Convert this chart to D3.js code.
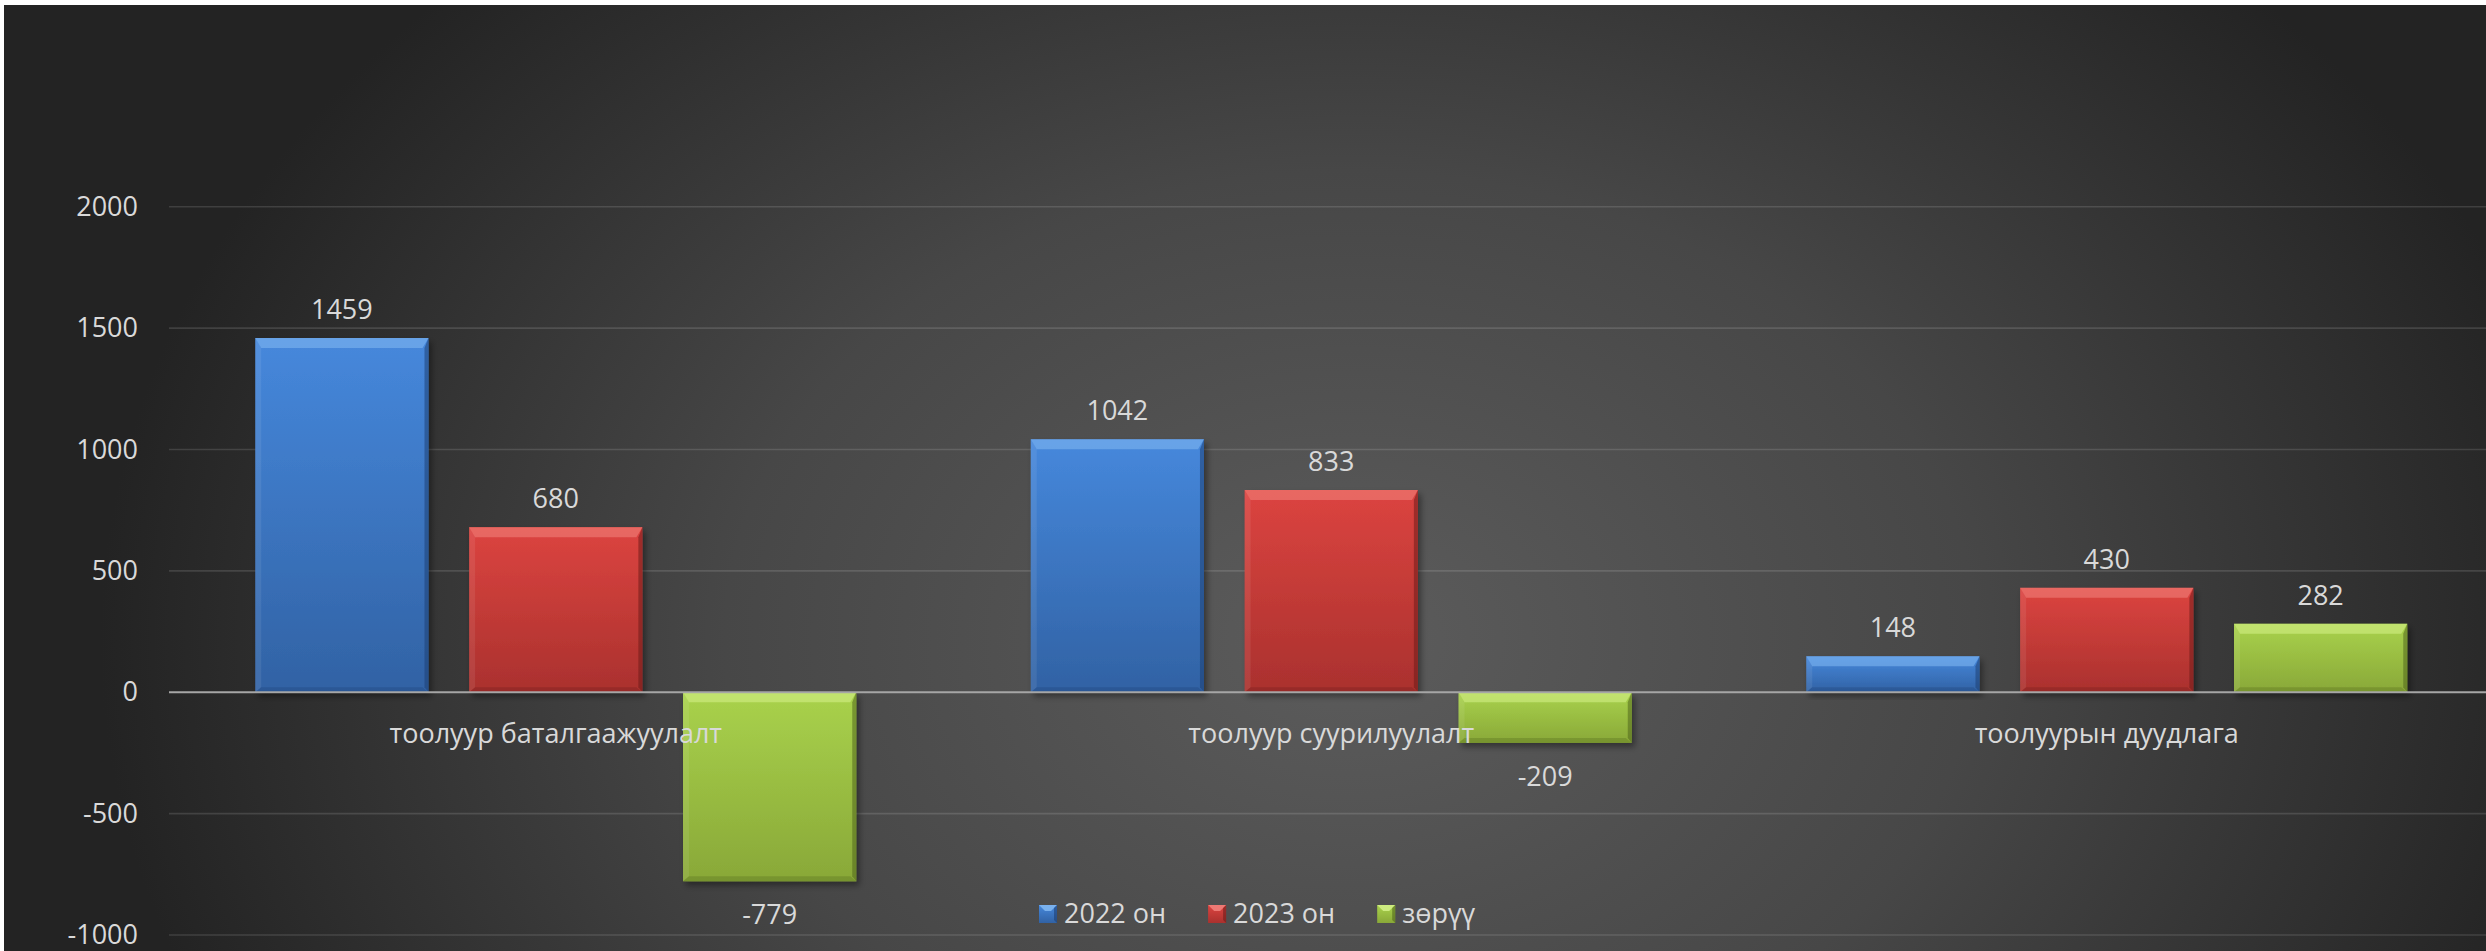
<!DOCTYPE html>
<html>
<head>
<meta charset="utf-8">
<script src="https://cdn.jsdelivr.net/npm/d3@7"></script>
<style>
  html, body { margin: 0; padding: 0; background: #ffffff; }
  svg { display: block; }
  text { font-family: "Open Sans", Roboto, "DejaVu Sans", sans-serif; fill: #d9d9d9; }
</style>
</head>
<body>
<svg id="chart" width="2486" height="951"></svg>
<script>
// ---- data ----
const categories = ["тоолуур баталгаажуулалт", "тоолуур суурилуулалт", "тоолуурын дуудлага"];
const seriesNames = ["2022 он", "2023 он", "зөрүү"];
const values2022 = [1459, 1042, 148];
const values2023 = [680, 833, 430];
const valuesDiff = [-779, -209, 282];
const yTicks = [-1000, -500, 0, 500, 1000, 1500, 2000];

const seriesValues = [values2022, values2023, valuesDiff];
const palette = [
  { top: "#4688dc", bottom: "#3162a4", bevel: "#7fb6f0", dark: "#1e3f73" },
  { top: "#dc4440", bottom: "#aa312e", bevel: "#f0807a", dark: "#6e1c1a" },
  { top: "#a9d24c", bottom: "#89a838", bevel: "#d2ee86", dark: "#50661c" }
];

const W = 2486, H = 951;
const svg = d3.select("#chart");
const defs = svg.append("defs");

// background gradient
const bg = defs.append("radialGradient").attr("id", "bg")
  .attr("gradientUnits", "userSpaceOnUse")
  .attr("cx", 1350).attr("cy", 640).attr("r", 1250)
  .attr("gradientTransform", "translate(1350,640) scale(1,0.75) translate(-1350,-640)");
bg.append("stop").attr("offset", 0).attr("stop-color", "#5c5c5c");
bg.append("stop").attr("offset", 0.5).attr("stop-color", "#474747");
bg.append("stop").attr("offset", 1).attr("stop-color", "#232323");

palette.forEach((p, i) => {
  const g = defs.append("linearGradient").attr("id", "bar" + i)
    .attr("x1", 0).attr("y1", 0).attr("x2", 0).attr("y2", 1);
  g.append("stop").attr("offset", 0).attr("stop-color", p.top);
  g.append("stop").attr("offset", 1).attr("stop-color", p.bottom);
});

const sh = defs.append("filter").attr("id", "shadow")
  .attr("x", "-20%").attr("y", "-20%").attr("width", "140%").attr("height", "140%");
sh.append("feDropShadow").attr("dx", 3).attr("dy", 4).attr("stdDeviation", 3)
  .attr("flood-color", "#000").attr("flood-opacity", 0.4);

svg.append("rect").attr("x", 4).attr("y", 5).attr("width", W - 4).attr("height", H - 5)
  .attr("fill", "url(#bg)");

// ---- scales ----
const x0 = d3.scaleBand().domain(categories).range([168, 2494.5]).paddingInner(0).paddingOuter(0);
const bw = x0.bandwidth();
const x1 = d3.scaleBand().domain(seriesNames)
  .range([bw * 0.1125, bw * 0.8875]).paddingInner(0.19).paddingOuter(0);
const y = d3.scaleLinear().domain([-1000, 2000]).range([935, 206.7]);

// gridlines
svg.append("g").selectAll("line").data(yTicks.filter(d => d !== 0)).join("line")
  .attr("x1", 169).attr("x2", W)
  .attr("y1", d => y(d)).attr("y2", d => y(d))
  .attr("stroke", "rgba(255,255,255,0.13)").attr("stroke-width", 1.6);

// y axis labels
const yAxis = d3.axisLeft(y).tickValues(yTicks).tickSize(0).tickPadding(31).tickFormat(d => String(d));
const yg = svg.append("g").attr("transform", "translate(169,0)").call(yAxis);
yg.select(".domain").remove();
yg.selectAll("text").attr("font-size", 27).attr("fill", "#d9d9d9")
  .style("font-family", '"Open Sans", Roboto, sans-serif');

// ---- bars ----
const data = [];
categories.forEach((c, ci) => {
  seriesNames.forEach((s, si) => {
    data.push({ cat: c, ser: s, si, v: seriesValues[si][ci] });
  });
});

function bevelBar(g, x, yy, w, h, p) {
  const t = Math.min(10, h / 3), s = 6, b = Math.min(5, h / 4);
  g.append("rect").attr("x", x).attr("y", yy).attr("width", w).attr("height", h)
    .attr("fill", "url(#bar" + p.i + ")").attr("filter", "url(#shadow)");
  const poly = pts => pts.map(q => q.join(",")).join(" ");
  g.append("polygon").attr("points", poly([[x, yy], [x + w, yy], [x + w - s, yy + t], [x + s, yy + t]]))
    .attr("fill", p.bevel).attr("opacity", 0.6);
  g.append("polygon").attr("points", poly([[x, yy], [x + s, yy + t], [x + s, yy + h - b], [x, yy + h]]))
    .attr("fill", "#ffffff").attr("opacity", 0.08);
  g.append("polygon").attr("points", poly([[x + w, yy], [x + w, yy + h], [x + w - 4, yy + h - b], [x + w - 4, yy + t]]))
    .attr("fill", p.dark).attr("opacity", 0.55);
  g.append("polygon").attr("points", poly([[x, yy + h], [x + s, yy + h - b], [x + w - s, yy + h - b], [x + w, yy + h]]))
    .attr("fill", p.dark).attr("opacity", 0.3);
}

const barsG = svg.append("g");
data.forEach(d => {
  const x = x0(d.cat) + x1(d.ser);
  const top = y(Math.max(0, d.v)), bot = y(Math.min(0, d.v));
  bevelBar(barsG.append("g"), x, top, x1.bandwidth(), bot - top, Object.assign({ i: d.si }, palette[d.si]));
});

// zero axis line
svg.append("line").attr("x1", 169).attr("x2", W).attr("y1", y(0)).attr("y2", y(0))
  .attr("stroke", "#a6a6a6").attr("stroke-width", 2.2);

// data labels
svg.append("g").selectAll("text").data(data).join("text")
  .attr("x", d => x0(d.cat) + x1(d.ser) + x1.bandwidth() / 2)
  .attr("y", d => d.v >= 0 ? y(d.v) - 19 : y(d.v) + 43)
  .attr("text-anchor", "middle").attr("font-size", 27)
  .text(d => String(d.v));

// category labels
svg.append("g").selectAll("text").data(categories).join("text")
  .attr("x", d => x0(d) + bw / 2)
  .attr("y", y(0) + 51)
  .attr("text-anchor", "middle").attr("font-size", 27)
  .text(d => d);

// ---- legend ----
const lg = svg.append("g");
const items = lg.selectAll("g").data(seriesNames).join("g");
items.append("text").attr("x", 25).attr("y", 923).attr("font-size", 27).text(d => d);
let widths = [];
items.each(function () { widths.push(this.querySelector("text").getComputedTextLength()); });
const gapItems = 42;
const total = d3.sum(widths) + 25 * seriesNames.length + gapItems * (seriesNames.length - 1);
let cx = 1257 - total / 2;
items.each(function (d, i) {
  const g = d3.select(this).attr("transform", `translate(${cx},0)`);
  const p = palette[i];
  g.insert("rect", "text").attr("x", 0).attr("y", 905).attr("width", 18).attr("height", 18)
    .attr("fill", "url(#bar" + i + ")");
  g.insert("polygon", "text").attr("points", "0,905 18,905 12,911 6,911")
    .attr("fill", p.bevel).attr("opacity", 0.9);
  g.insert("polygon", "text").attr("points", "18,905 18,923 15,920 15,908")
    .attr("fill", p.dark).attr("opacity", 0.6);
  cx += 25 + widths[i] + gapItems;
});
</script>
</body>
</html>
